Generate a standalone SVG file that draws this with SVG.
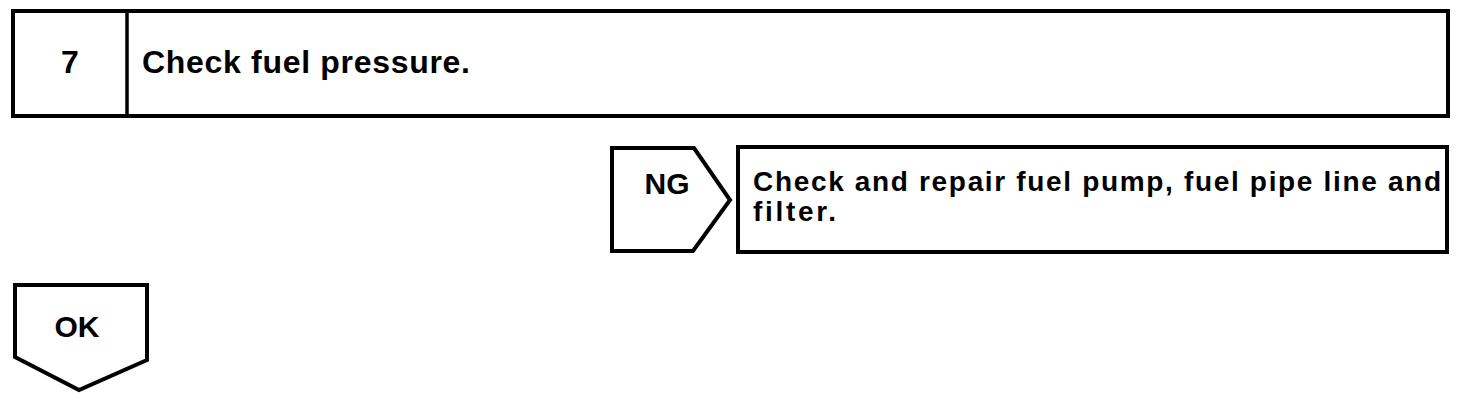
<svg xmlns="http://www.w3.org/2000/svg" width="1472" height="402" viewBox="0 0 1472 402">
<style>
.box{fill:#fff;stroke:#000;stroke-width:4;stroke-linejoin:miter}
.t{font-family:"Liberation Sans",Arial,sans-serif;font-weight:bold;fill:#000}
</style>
<rect width="1472" height="402" fill="#fff"/>
<g id="step7">
<rect class="box" x="13" y="11" width="1435" height="105"/>
<line x1="127" y1="11" x2="127" y2="116" stroke="#000" stroke-width="3.5"/>
<text class="t" x="70" y="73" font-size="32" text-anchor="middle">7</text>
<text class="t" x="142" y="73" font-size="32" textLength="328" lengthAdjust="spacing">Check fuel pressure.</text>
</g>
<g id="ng">
<polygon class="box" points="612,148 694,148 730,200 693,251 612,251"/>
<text class="t" x="667" y="194" font-size="30" text-anchor="middle">NG</text>
</g>
<g id="repair">
<rect class="box" x="738" y="147" width="709" height="105"/>
<text class="t" x="753" y="191" font-size="28" textLength="688" lengthAdjust="spacing">Check and repair fuel pump, fuel pipe line and</text>
<text class="t" x="753" y="221" font-size="28" textLength="83" lengthAdjust="spacing">filter.</text>
</g>
<g id="ok">
<polygon class="box" points="15,285 147,285 147,360 79,390 15,357"/>
<text class="t" x="77" y="337" font-size="30" text-anchor="middle">OK</text>
</g>
<g id="connectors"></g>
</svg>
